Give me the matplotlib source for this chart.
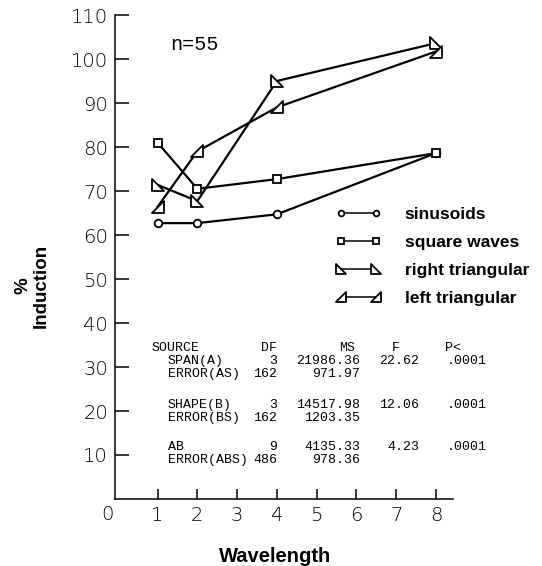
import matplotlib
matplotlib.use("Agg")
import matplotlib.pyplot as plt
from matplotlib.path import Path

# ---- data ----
wavelengths = [1, 2, 4, 8]
sinusoids = [62.7, 62.7, 64.7, 78.6]
square_waves = [81.0, 70.5, 72.7, 78.6]
right_triangular = [71.4, 67.7, 95.0, 103.6]
left_triangular = [66.4, 79.0, 89.0, 101.7]
series_names = ["sinusoids", "square waves", "right triangular", "left triangular"]
x_ticks = [1, 2, 3, 4, 5, 6, 7, 8]
y_ticks = [10, 20, 30, 40, 50, 60, 70, 80, 90, 100, 110]

table_header = ["SOURCE", "DF", "MS", "F", "P<"]
table_sources = ["SPAN(A)", "ERROR(AS)", "SHAPE(B)", "ERROR(BS)", "AB", "ERROR(ABS)"]
table_df = ["3", "162", "3", "162", "9", "486"]
table_ms = ["21986.36", "971.97", "14517.98", "1203.35", "4135.33", "978.36"]
table_f = ["22.62", "", "12.06", "", "4.23", ""]
table_p = [".0001", "", ".0001", "", ".0001", ""]

W, H = 542, 566
fig = plt.figure(figsize=(W / 100, H / 100), dpi=100)
ax = fig.add_axes([115 / W, 1 - 499 / H, (453 - 115) / W, (499 - 15) / H])

def px(x, y):
    return x / W, 1 - y / H

right_tri = Path([(-1, 1), (-1, -1), (1, -1), (-1, 1)],
                 [Path.MOVETO, Path.LINETO, Path.LINETO, Path.CLOSEPOLY])
left_tri = Path([(1, 1), (1, -1), (-1, -1), (1, 1)],
                [Path.MOVETO, Path.LINETO, Path.LINETO, Path.CLOSEPOLY])

lw = 1.6
kw = dict(color="black", lw=lw, mfc="white", mec="black", mew=1.3)
ax.plot(wavelengths, sinusoids, marker="o", ms=5.5, label=series_names[0], **kw)
ax.plot(wavelengths, square_waves, marker="s", ms=6, label=series_names[1], **kw)
ax.plot(wavelengths, right_triangular, marker=right_tri, ms=9, label=series_names[2], **kw)
ax.plot(wavelengths, left_triangular, marker=left_tri, ms=9, label=series_names[3], **kw)

ax.set_xlim(-0.07, 8.43)
ax.set_ylim(0, 110)
for s in ["top", "right"]:
    ax.spines[s].set_visible(False)
for s in ["left", "bottom"]:
    ax.spines[s].set_linewidth(1.1)

tick_font = dict(family="DejaVu Sans", weight="light", size=14)
ax.set_xticks(x_ticks)
ax.set_xticklabels([str(t) for t in x_ticks], fontdict=tick_font)
ax.set_yticks(y_ticks)
ax.set_yticklabels([str(t) for t in y_ticks], fontdict=tick_font)
ax.tick_params(axis="y", direction="in", length=10, width=1.1, pad=5)
ax.tick_params(axis="x", direction="in", length=7, width=1.1, pad=5)
fig.text(*px(107, 515), "0", ha="center", va="center", fontdict=tick_font)

fig.text(*px(275, 556), "Wavelength", ha="center", va="center",
         family="Liberation Sans", weight="bold", size=14.5)
fig.text(*px(32, 286), "%\nInduction", rotation=90, ha="center", va="center",
         family="Liberation Sans", weight="bold", size=13.5, linespacing=1.05)

fig.text(*px(170, 45), "n=55", family="Liberation Mono", size=14.5, va="center")

leg = ax.legend(loc="upper left", bbox_to_anchor=px(336, 207),
                bbox_transform=fig.transFigure, frameon=False, numpoints=2,
                handlelength=2.6, handletextpad=1.35, labelspacing=0.74,
                markerscale=0.75, borderpad=0, borderaxespad=0,
                prop=dict(family="Liberation Sans", weight="bold", size=12.5))
for line in leg.get_lines():
    line.set_linewidth(1.1)

# ANOVA table
mono = dict(family="Liberation Mono", size=9.5, va="center")
fig.text(*px(152, 348), table_header[0], **mono)
fig.text(*px(277, 348), table_header[1], ha="right", **mono)
fig.text(*px(355, 348), table_header[2], ha="right", **mono)
fig.text(*px(400, 348), table_header[3], ha="right", **mono)
fig.text(*px(445, 348), table_header[4], **mono)
row_y = [361, 374, 405, 418, 447, 460]
for i, yy in enumerate(row_y):
    fig.text(*px(168, yy), table_sources[i], **mono)
    fig.text(*px(277, yy), table_df[i], ha="right", **mono)
    fig.text(*px(360, yy), table_ms[i], ha="right", **mono)
    if table_f[i]:
        fig.text(*px(419, yy), table_f[i], ha="right", **mono)
    if table_p[i]:
        fig.text(*px(447, yy), table_p[i], **mono)

fig.savefig("out.png", dpi=100)
